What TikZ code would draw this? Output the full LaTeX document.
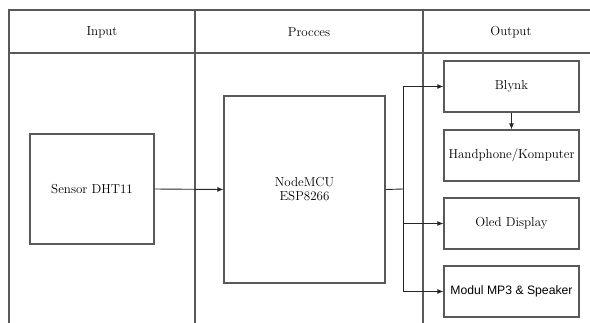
\documentclass[tikz,border=0pt]{standalone}
\usepackage{fontspec}
\newfontfamily\arialfont{Liberation Sans}
\usetikzlibrary{arrows.meta}
\begin{document}
\begin{tikzpicture}[x=1pt,y=-1pt,
  frameline/.style={draw=black!65,line width=1.1pt},
  blockbox/.style={draw=black!65,line width=1.2pt,fill=white,inner sep=0pt,font=\rmfamily\fontsize{13}{14}\selectfont,align=center},
  headtext/.style={font=\rmfamily\fontsize{13}{15}\selectfont,inner sep=0pt},
  conn/.style={draw=black!85,line width=0.9pt,-{Latex[length=6pt,width=5pt]}},
  plainconn/.style={draw=black!85,line width=0.9pt}]
\useasboundingbox (0,0) rectangle (590,322);
\begin{scope}
\clip (0,0) rectangle (590,322);
% frame
\draw[frameline] (9,330) -- (9,10) -- (600,10);
\draw[frameline] (9,53) -- (600,53);
\draw[frameline] (195,10) -- (195,330);
\draw[frameline] (423,10) -- (423,330);
\end{scope}
% headers
\node[headtext] (hin) at (102,32) {Input};
\node[headtext] (hpr) at (309,32) {Procces};
\node[headtext] (hout) at (511,32) {Output};
% blocks
\node[blockbox,minimum width=124pt,minimum height=110pt] (sensor) at (92,189) {Sensor DHT11};
\node[blockbox,minimum width=161pt,minimum height=187pt] (mcu) at (304.5,189.5) {NodeMCU\\ESP8266};
\node[blockbox,minimum width=135pt,minimum height=51pt] (blynk) at (511.5,86.5) {Blynk};
\node[blockbox,minimum width=135pt,minimum height=51pt] (hp) at (511.5,155.5) {Handphone/Komputer};
\node[blockbox,minimum width=135pt,minimum height=51pt] (oled) at (511.5,223.5) {Oled Display};
\node[blockbox,minimum width=135pt,minimum height=51pt,font=\arialfont\fontsize{12.2}{14}\selectfont] (mp3) at (511.5,291.5) {Modul MP3 \& Speaker};
% connectors
\coordinate (trunk) at (403,189);
\draw[conn] (sensor.east) -- (mcu.west);
\draw[plainconn] (mcu.east) -- (trunk);
\draw[conn] (trunk) -- (trunk |- blynk.west) -- (blynk.west);
\draw[conn] (trunk) -- (trunk |- oled.west) -- (oled.west);
\draw[conn] (trunk) -- (trunk |- mp3.west) -- (mp3.west);
\draw[conn] (blynk.south) -- (hp.north);
\end{tikzpicture}
\end{document}
